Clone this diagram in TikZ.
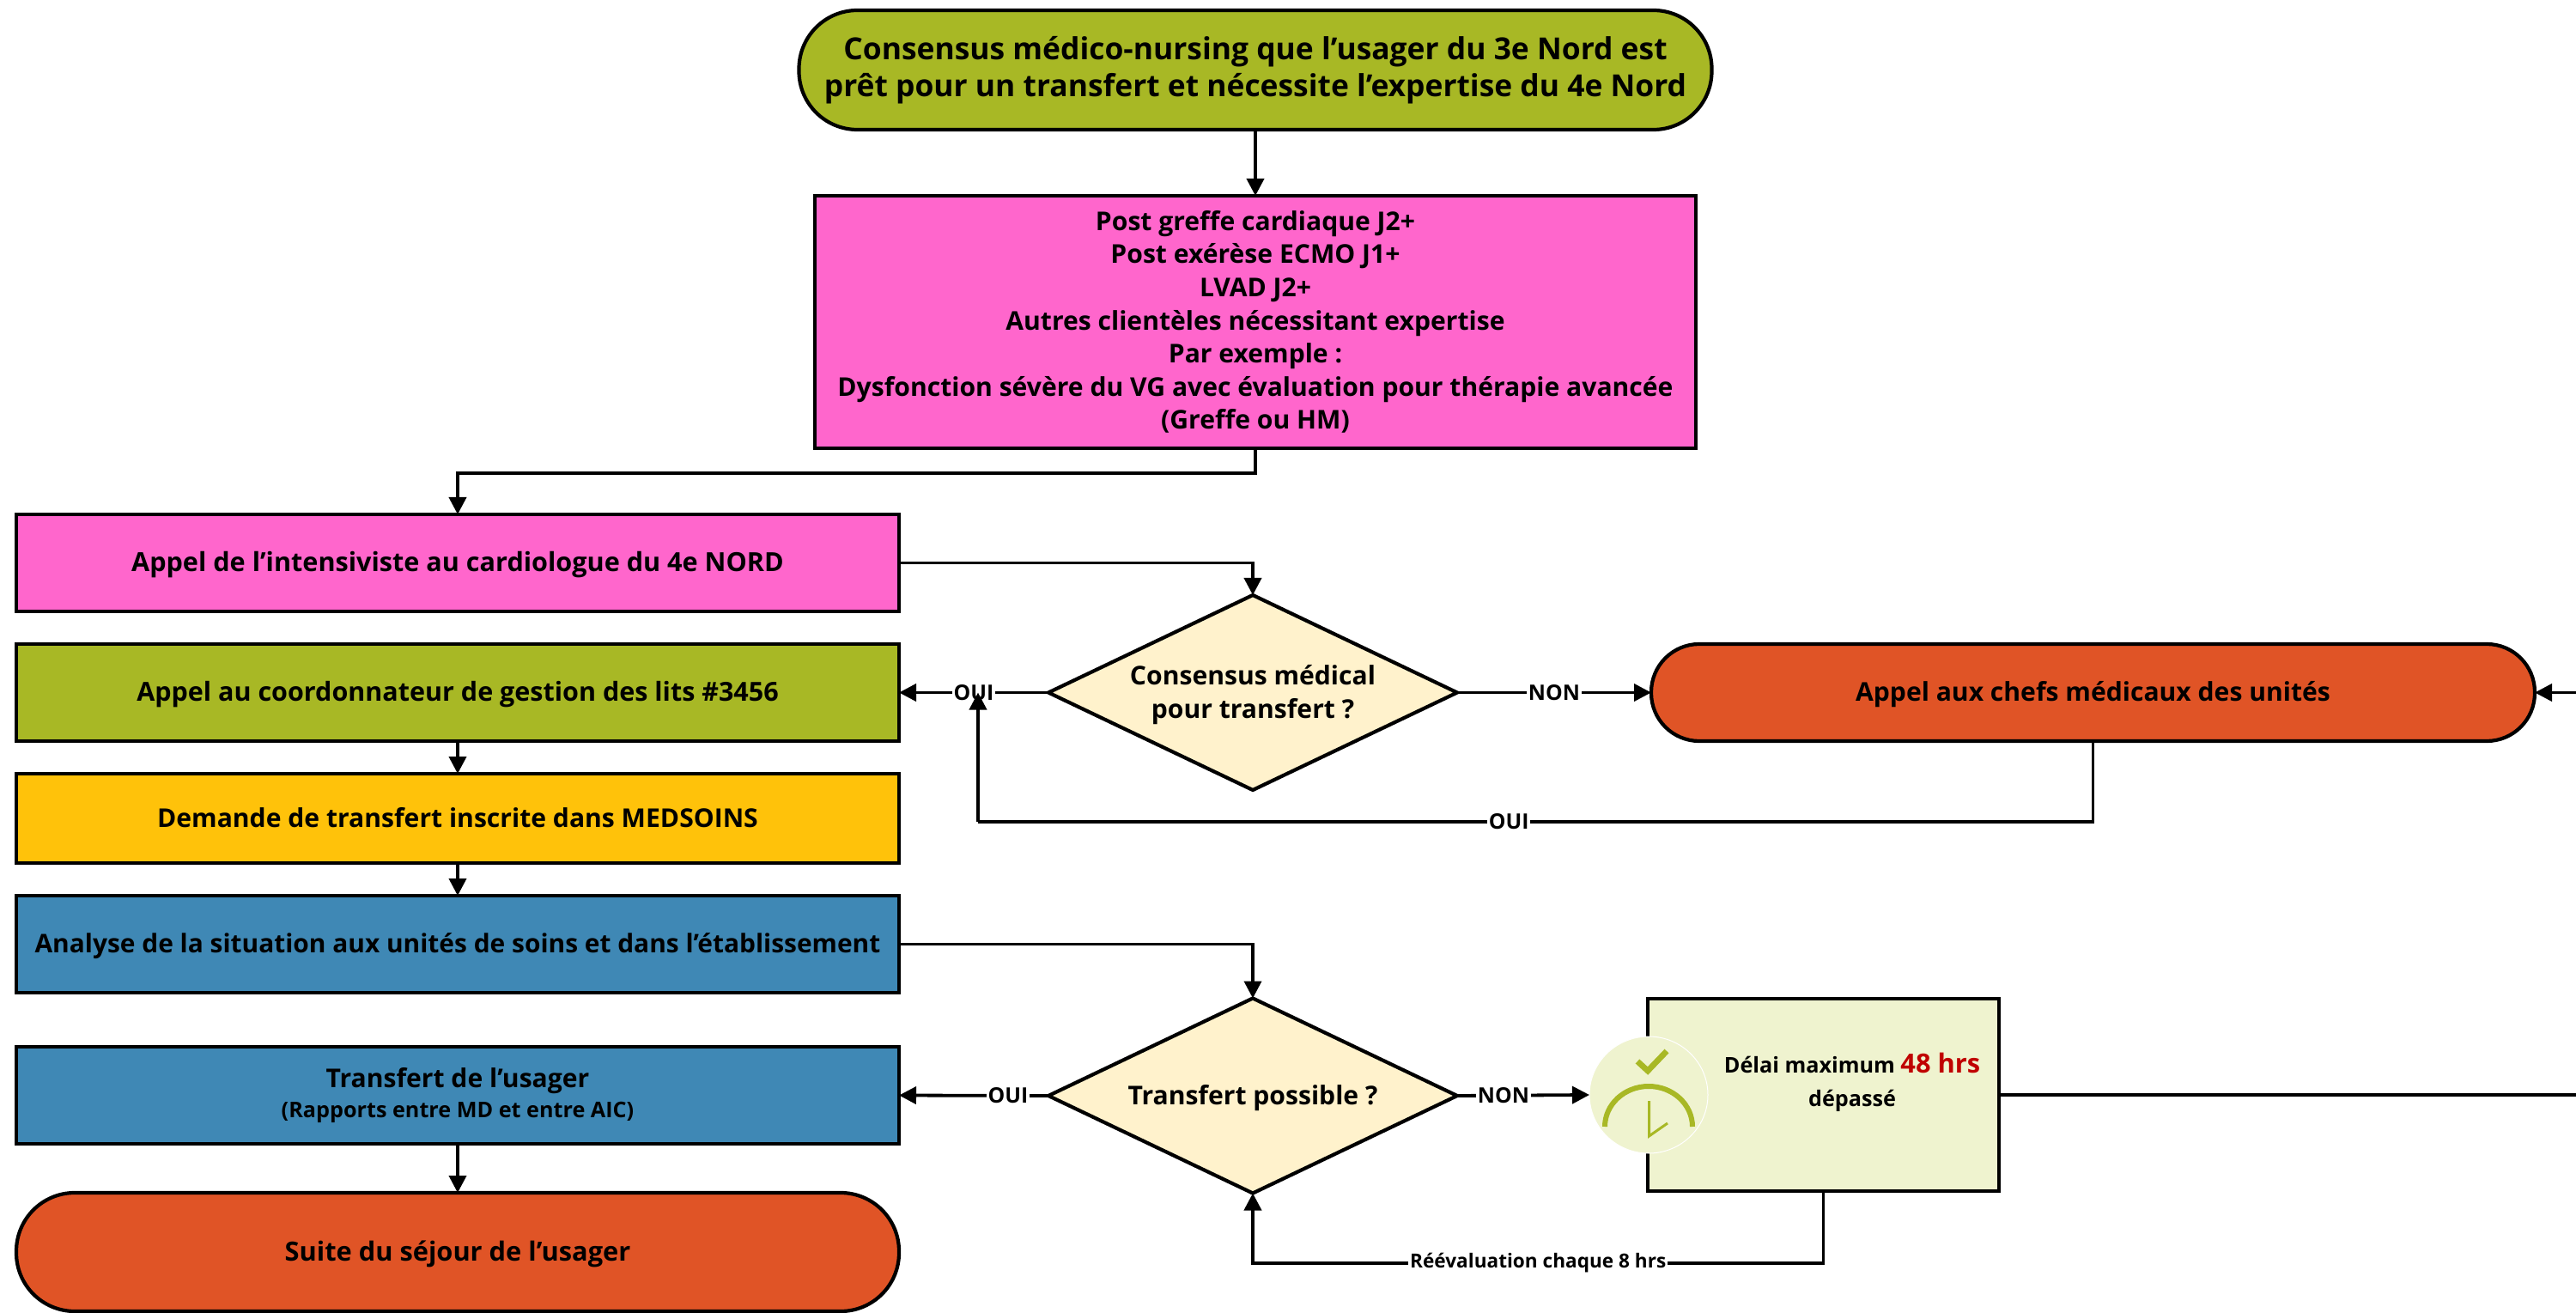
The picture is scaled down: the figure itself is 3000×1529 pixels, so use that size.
\documentclass[tikz,border=0pt]{standalone}
\usepackage{fontspec}
\setmainfont{Open Sans}
\usetikzlibrary{arrows.meta,shapes.geometric,calc}
\definecolor{olive}{HTML}{A8B825}
\definecolor{pinkb}{HTML}{FF66CC}
\definecolor{amber}{HTML}{FFC20A}
\definecolor{blueb}{HTML}{3F88B5}
\definecolor{redb}{HTML}{E05426}
\definecolor{creamb}{HTML}{FFF2CC}
\definecolor{paleb}{HTML}{EFF3CF}
\definecolor{darkred}{HTML}{C00000}
\newcommand{\fs}[2]{\fontsize{#1}{#2}\selectfont\bfseries}
\tikzset{
  x=0.5pt,y=-0.5pt,
  base/.style={draw=black,line width=2.1pt,align=center,outer sep=0pt,inner sep=0pt,font=\fs{15.05}{19.3}},
  boxw/.style={base,rectangle,minimum width=514pt},
  one/.style={text height=13.5pt,text depth=3.3pt},
  term/.style={base,rectangle,rounded corners=34pt},
  dia/.style={base,diamond,aspect=2.1,minimum width=238pt,minimum height=113.5pt},
  link/.style={line width=1.9pt,-{Triangle[length=10pt,width=10pt]}},
  plain/.style={line width=1.9pt},
  lab/.style={fill=white,inner sep=1pt,font=\fs{12.4}{14}},
}
\begin{document}
\begin{tikzpicture}
\useasboundingbox (0,0) rectangle (3000,1529);
\node[term,fill=olive,minimum width=531.5pt,minimum height=69.5pt,font=\fs{17.7}{21.5}] (top) at (1462,81.5) {Consensus médico-nursing que l’usager du 3e Nord est\\prêt pour un transfert et nécessite l’expertise du 4e Nord};
\node[base,rectangle,fill=pinkb,minimum width=513pt,minimum height=147pt] (pink) at (1462,375) {Post greffe cardiaque J2+\\Post exérèse ECMO J1+\\LVAD J2+\\Autres clientèles nécessitant expertise\\Par exemple :\\Dysfonction sévère du VG avec évaluation pour thérapie avancée\\(Greffe ou HM)};
\node[boxw,one,fill=pinkb,minimum height=56.5pt,font=\fs{15.3}{19.3}] (appel) at (533,655.5) {Appel de l’intensiviste au cardiologue du 4e NORD};
\node[boxw,one,fill=olive,minimum height=56.5pt,font=\fs{15.25}{19.3}] (coord) at (533,806.5) {Appel au coordonnateur de gestion des lits \#3456};
\node[boxw,one,fill=amber,minimum height=52pt] (medsoins) at (533,953) {Demande de transfert inscrite dans MEDSOINS};
\node[boxw,one,fill=blueb,minimum height=56.5pt,font=\fs{14.95}{19.3}] (analyse) at (533,1099.5) {Analyse de la situation aux unités de soins et dans l’établissement};
\node[boxw,fill=blueb,minimum height=56.5pt] (transfert) at (533,1275.5) {Transfert de l’usager\\[-1.5pt]{\fs{12.6}{14}(Rapports entre MD et entre AIC)}};
\node[term,one,fill=redb,minimum width=514pt,minimum height=69pt,font=\fs{15.4}{19.3}] (suite) at (533,1458) {Suite du séjour de l’usager};
\node[dia,fill=creamb] (d1) at (1459,806.5) {\rule{0pt}{14pt}Consensus médical\\pour transfert ?};
\node[dia,one,fill=creamb] (d2) at (1459,1276) {Transfert possible ?};
\node[term,one,fill=redb,minimum width=514.5pt,minimum height=56.5pt,rounded corners=28pt] (chefs) at (2437.5,806.5) {Appel aux chefs médicaux des unités};
\node[base,rectangle,fill=paleb,minimum width=204.5pt,minimum height=112pt] (delai) at (2123.5,1275) {};
\node[align=center,inner sep=0pt,font=\fs{12.6}{19.5}] (delaitxt) at (2157,1260) {Délai maximum {\fs{15.4}{19.5}\color{darkred}48 hrs}\\dépassé};
\node[ellipse,fill=paleb,draw=white,line width=0.5pt,minimum width=69pt,minimum height=68pt,inner sep=0pt,outer sep=0pt] (clock) at (1920,1275) {};
% clock icon
\draw[olive,line width=3.4pt] (1907,1236) -- (1919,1247) -- (1941,1224);
\draw[olive,line width=3pt] (1869,1312) arc[start angle=180,end angle=0,x radius=25.5pt,y radius=23.5pt];
\draw[olive,line width=1.5pt] (1920.5,1282) -- (1920.5,1323) -- (1942,1308);
% coordinates
\coordinate (rightin) at (3000,806.5);
\coordinate (rightout) at (3000,1275);
\coordinate (oui1) at (1139,806.5);
\coordinate (oui1b) at (1139,957);
% connectors
\draw[link] (top.south) -- (pink.north);
\draw[link] (pink.south) -- ++(0,29) -| (appel.north);
\draw[link] (appel.east) -| (d1.north);
\draw[link] (d1.west) -- node[lab,pos=0.5] (l1) {OUI} (coord.east);
\draw[link] (d1.east) -- node[lab,pos=0.5] (l2) {NON} (chefs.west);
\draw[plain] (chefs.south) |- node[lab,pos=0.762] (l3) {OUI} (oui1b);
\draw[link] (oui1b) -- (oui1);
\draw[link] (rightin) -- (chefs.east);
\draw[link] (coord.south) -- (medsoins.north);
\draw[link] (medsoins.south) -- (analyse.north);
\draw[link] (analyse.east) -| (d2.north);
\draw[link] (d2.west) -- node[lab,pos=0.27] (l4) {OUI} (transfert.east);
\draw[link] (d2.east) -- node[lab,pos=0.35] (l5) {NON} (clock.west);
\draw[link] (transfert.south) -- (suite.north);
\draw[plain] (delai.east) -- (rightout);
\draw[link] (delai.south) -- ++(0,84) -| node[lab,pos=0.25,font=\fs{11.3}{13}] (l6) {Réévaluation chaque 8 hrs} (d2.south);
\end{tikzpicture}
\end{document}
